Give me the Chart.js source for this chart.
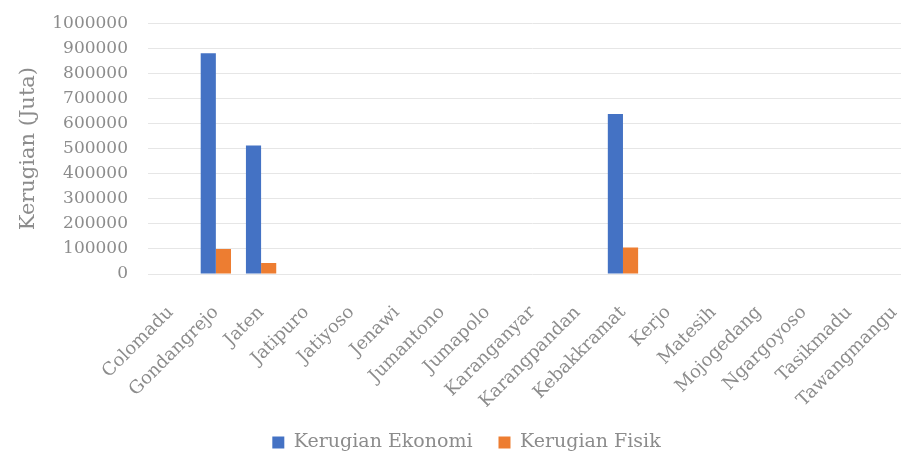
<!DOCTYPE html>
<html>
<head>
<meta charset="utf-8">
<script src="https://cdn.jsdelivr.net/npm/chart.js@4"></script>
<style>
  html, body { margin: 0; padding: 0; background: #fff; overflow: hidden; }
  #wrap { width: 950px; height: 466px; margin-top: -7px; }
</style>
</head>
<body>
<div id="wrap"><canvas id="myChart"></canvas></div>
<script>
const ctx = document.getElementById("myChart");

const kecamatan = [
  "Colomadu", "Gondangrejo", "Jaten", "Jatipuro", "Jatiyoso", "Jenawi",
  "Jumantono", "Jumapolo", "Karanganyar", "Karangpandan", "Kebakkramat",
  "Kerjo", "Matesih", "Mojogedang", "Ngargoyoso", "Tasikmadu", "Tawangmangu",
];
const kerugianEkonomi = [0, 880000, 512000, 0, 0, 0, 0, 0, 0, 0, 638000, 0, 0, 0, 0, 0, 0];
const kerugianFisik = [0, 100000, 44000, 0, 0, 0, 0, 0, 0, 0, 106000, 0, 0, 0, 0, 0, 0];
const yTicks = [0, 100000, 200000, 300000, 400000, 500000, 600000, 700000, 800000, 900000, 1000000];

const serif = "'DejaVu Serif', 'Liberation Serif', serif";
const textGrey = "#8c8c8c";

//. Same serif everywhere, legend included
Chart.defaults.font.family = serif;
Chart.defaults.color = textGrey;

//. Legend keeps its wide item gaps but not the tall box
const legendHeight = {
  id: "legendHeight",
  beforeUpdate(chart) {
    const lg = chart.legend;
    if (!lg || lg._patched) return;
    const fit = lg.fit;
    lg.fit = function () {
      fit.call(this);
      this.height = 50;
    };
    lg._patched = true;
  },
};

let myChart = new Chart(ctx, {
  type: "bar",
  data: {
    labels: kecamatan,
    datasets: [
      {
        label: "Kerugian Ekonomi",
        data: kerugianEkonomi,
        backgroundColor: "#4472c4",
        categoryPercentage: 0.67,
        barPercentage: 1,
      },
      {
        label: "Kerugian Fisik",
        data: kerugianFisik,
        backgroundColor: "#ed7d31",
        categoryPercentage: 0.67,
        barPercentage: 1,
      },
    ],
  },
  plugins: [legendHeight],
  options: {
    responsive: true,
    maintainAspectRatio: false,
    animation: false,
    layout: { padding: { left: 16, right: 33, top: 0, bottom: 2 } },
    plugins: {
      tooltip: { enabled: false },
      legend: {
        position: "bottom",
        labels: {
          color: textGrey,
          font: { family: serif, size: 19 },
          boxWidth: 12,
          boxHeight: 12,
          padding: 26,
        },
      },
    },
    scales: {
      x: {
        grid: { display: false },
        border: { display: false },
        afterFit: (axis) => {
          axis.height = 133;
        },
        ticks: {
          color: textGrey,
          font: { family: serif, size: 18 },
          maxRotation: 45,
          minRotation: 45,
          autoSkip: false,
          padding: 20,
        },
      },
      y: {
        min: 0,
        max: 1000000,
        border: { display: false },
        grid: { color: "#e6e6e6", drawTicks: false },
        afterBuildTicks: (axis) => {
          axis.ticks = yTicks.map((v) => ({ value: v }));
        },
        afterFit: (axis) => {
          axis.width = 132;
        },
        ticks: {
          color: textGrey,
          font: { family: serif, size: 17 },
          padding: 20,
          autoSkip: false,
          // plain numbers, no thousands separator
          callback: (v) => String(v),
        },
        title: {
          display: true,
          text: "Kerugian (Juta)",
          color: textGrey,
          font: { family: serif, size: 21 },
          padding: 0,
        },
      },
    },
  },
});
</script>
</body>
</html>
